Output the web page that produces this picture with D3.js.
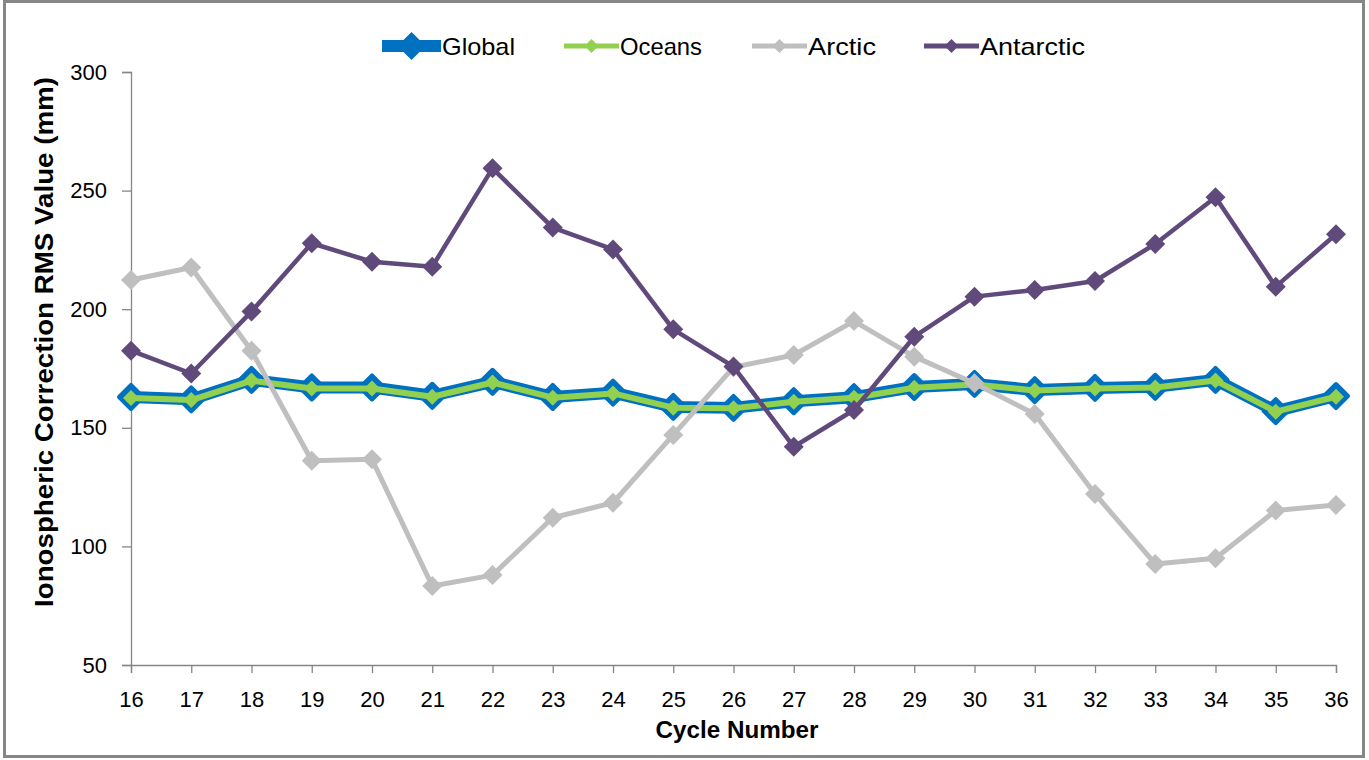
<!DOCTYPE html>
<html><head><meta charset="utf-8">
<script src="https://cdn.jsdelivr.net/npm/d3@7"></script>
<style>
html,body{margin:0;padding:0;background:#fff;}
text{font-family:"Liberation Sans","Arial",sans-serif;}
</style></head>
<body><svg id="c" width="1369" height="760"></svg>
<script>
const cycles = [16,17,18,19,20,21,22,23,24,25,26,27,28,29,30,31,32,33,34,35,36];
const globalVals = [163.0,162.0,170.2,167.0,167.0,163.5,169.4,163.0,164.8,158.8,158.4,161.2,162.9,167.2,168.5,165.9,166.8,167.3,170.2,157.0,163.4];
const oceansVals = [162.6,161.7,169.9,166.6,166.6,163.1,169.1,162.7,164.5,158.5,158.2,161.0,162.7,166.9,168.3,165.7,166.6,167.0,169.9,156.8,163.1];
const arcticVals = [212.3,217.6,182.5,136.1,136.7,83.3,87.9,112.1,118.4,147.0,175.5,180.7,195.0,180.0,168.8,155.8,122.1,92.6,95.0,115.1,117.5];
const antarcticVals = [182.5,172.9,199.0,227.8,220.0,217.9,259.4,234.4,225.2,191.5,175.8,142.0,157.5,188.4,205.3,208.1,211.9,227.5,247.2,209.5,231.6];
const yTicks = [50,100,150,200,250,300];
const seriesNames = ["Global","Oceans","Arctic","Antarctic"];

const series = [
  {name:seriesNames[0], vals:globalVals, color:"#0070C0", lw:12, ms:12},
  {name:seriesNames[1], vals:oceansVals, color:"#92D050", lw:6, ms:8},
  {name:seriesNames[2], vals:arcticVals, color:"#BFBFBF", lw:5, ms:10},
  {name:seriesNames[3], vals:antarcticVals, color:"#604A7B", lw:4.5, ms:10}
];

const svg = d3.select("#c");
svg.append("rect").attr("x",4.5).attr("y",1.5).attr("width",1359).attr("height",755)
  .attr("fill","#fff").attr("stroke","#868686").attr("stroke-width",3);

const L=131, R=1336, T=72, B=665;
const x = d3.scalePoint().domain(cycles).range([L,R]);
const y = d3.scaleLinear().domain([50,300]).range([B,T]);

const axisColor="#868686";
const ya = svg.append("g").attr("transform",`translate(${L},0)`)
  .call(d3.axisLeft(y).tickValues(yTicks).tickSize(9).tickPadding(15));
const xa = svg.append("g").attr("transform",`translate(0,${B})`)
  .call(d3.axisBottom(x).tickSize(8).tickPadding(18));
[ya,xa].forEach(g=>{
  g.select(".domain").attr("stroke",axisColor).attr("stroke-width",1.3);
  g.selectAll(".tick line").attr("stroke",axisColor).attr("stroke-width",1.3);
  g.selectAll("text").attr("fill","#000").attr("font-size",22)
   .style("font-family",'"Liberation Sans",Arial,sans-serif');
});

svg.append("text").attr("transform","translate(53,342) rotate(-90)")
  .attr("text-anchor","middle").attr("font-size",25).attr("font-weight","bold")
  .attr("textLength",530).attr("lengthAdjust","spacingAndGlyphs")
  .text("Ionospheric Correction RMS Value (mm)");
svg.append("text").attr("x",737).attr("y",738)
  .attr("text-anchor","middle").attr("font-size",24).attr("font-weight","bold")
  .attr("textLength",163).attr("lengthAdjust","spacingAndGlyphs")
  .text("Cycle Number");

const diamond = (cx,cy,s)=>`M${cx},${cy-s}L${cx+s},${cy}L${cx},${cy+s}L${cx-s},${cy}Z`;
const line = d3.line().x((d,i)=>x(cycles[i])).y(d=>y(d));

series.forEach(s=>{
  const g = svg.append("g");
  g.append("path").attr("d",line(s.vals)).attr("fill","none")
    .attr("stroke",s.color).attr("stroke-width",s.lw).attr("stroke-linejoin","round");
  g.selectAll("path.m").data(s.vals).enter().append("path").attr("class","m")
    .attr("d",(d,i)=>diamond(x(cycles[i]),y(d),s.ms)).attr("fill",s.color)
    .attr("stroke",s.color).attr("stroke-width",s.name==="Global"?4:0).attr("stroke-linejoin","round");
});

// legend
const legX = [382,564,752,924];
const legTextW = [73,82,68,105];
const leg = svg.append("g");
series.forEach((s,i)=>{
  const lx = legX[i], ly=46;
  const w = i===0?59:55;
  leg.append("line").attr("x1",lx).attr("x2",lx+w).attr("y1",ly).attr("y2",ly)
    .attr("stroke",s.color).attr("stroke-width",i===0?12:5);
  leg.append("path").attr("d",diamond(lx+w/2,ly,i===0?12:7)).attr("fill",s.color)
    .attr("stroke",s.color).attr("stroke-width",i===0?3:0);
  leg.append("text").attr("x",lx+w+1).attr("y",ly+9).attr("font-size",24)
    .attr("textLength",legTextW[i]).attr("lengthAdjust","spacingAndGlyphs").text(s.name);
});
</script></body></html>
